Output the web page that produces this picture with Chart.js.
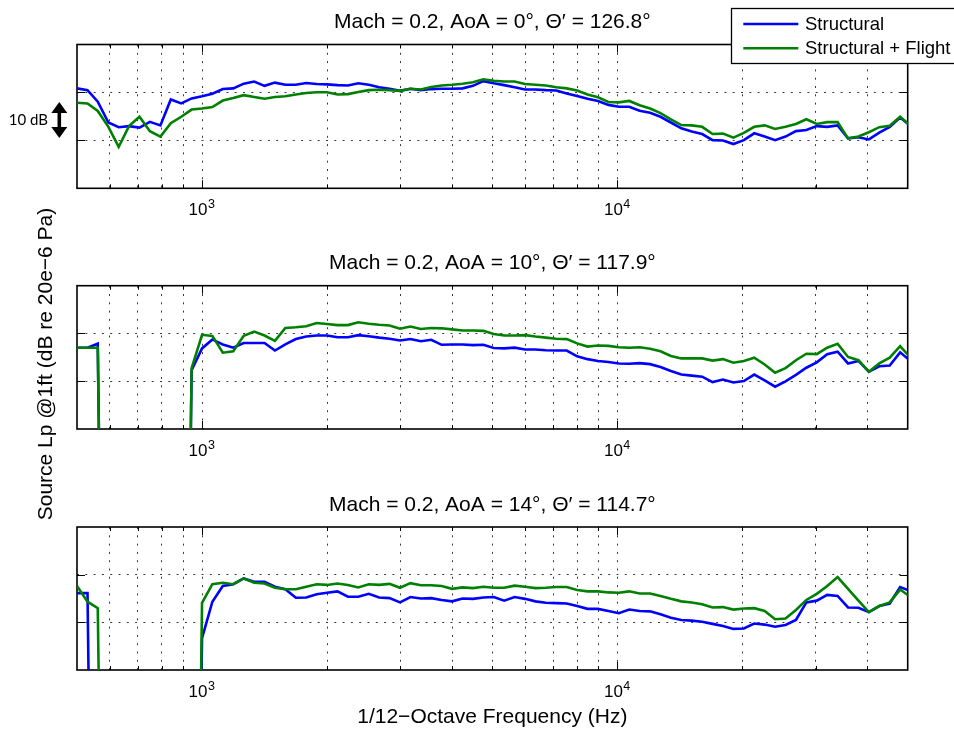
<!DOCTYPE html>
<html>
<head>
<meta charset="utf-8">
<script src="https://cdn.jsdelivr.net/npm/chart.js@4/dist/chart.umd.min.js"></script>
<style>
  html, body { margin: 0; padding: 0; background: #ffffff; }
  #figure { position: relative; width: 954px; height: 730px; overflow: hidden; background: #ffffff; }
  #figure canvas { position: absolute; left: 0; top: 0; }
</style>
</head>
<body>
<div id="figure">
  <canvas id="panel0" width="954" height="730"></canvas>
  <canvas id="panel1" width="954" height="730"></canvas>
  <canvas id="panel2" width="954" height="730"></canvas>
</div>
<script>
// 1/12-octave band centre frequencies (Hz)
const freqHz = [
  500, 530, 561, 595, 630, 667, 707, 749, 794, 841, 891, 944,
  1000, 1059, 1122, 1189, 1260, 1335, 1414, 1498, 1587, 1682, 1782, 1888,
  2000, 2119, 2245, 2378, 2520, 2670, 2828, 2997, 3175, 3364, 3564, 3775,
  4000, 4238, 4490, 4757, 5040, 5339, 5657, 5993, 6350, 6727, 7127, 7551,
  8000, 8476, 8980, 9514, 10079, 10679, 11314, 11986, 12699, 13454, 14254, 15102,
  16000, 16951, 17959, 19027, 20159, 21357, 22627, 23973, 25398, 26909, 28509, 30204,
  32000, 33903, 35919, 38055, 40317, 42715, 45255, 47946, 50797
];

// Source levels (relative dB). Bands with no usable signal are stored at -200 dB,
// so the trace plunges straight out through the bottom of the axes.
const structuralAoA0 = [
  27.8, 27.3, 24.1, 18.3, 17.0, 17.3, 16.9, 18.5, 17.5, 24.7, 23.6, 25.0,
  25.6, 26.3, 27.6, 27.8, 29.1, 29.7, 28.5, 29.4, 28.8, 28.8, 29.3, 29.0,
  28.9, 28.7, 28.6, 29.2, 28.8, 28.1, 27.7, 27.1, 27.7, 27.3, 27.6, 27.7,
  27.7, 27.8, 28.5, 29.8, 29.2, 28.7, 28.1, 27.5, 27.5, 27.3, 27.2, 26.4,
  25.7, 24.9, 24.3, 23.2, 22.7, 22.7, 21.6, 21.0, 19.9, 18.3, 16.7, 15.8,
  15.1, 13.4, 13.3, 12.3, 13.4, 15.3, 14.4, 13.4, 14.4, 15.9, 16.2, 17.3,
  17.1, 17.5, 13.9, 14.2, 13.6, 15.5, 17.1, 19.7, 17.4
];
const flightAoA0 = [
  23.8, 23.6, 21.5, 17.1, 11.5, 17.3, 19.9, 15.9, 14.4, 18.1, 19.9, 21.9,
  22.2, 22.6, 24.4, 25.1, 25.9, 25.4, 24.9, 25.4, 25.6, 26.1, 26.5, 26.7,
  26.7, 26.1, 26.2, 26.8, 27.3, 27.4, 27.3, 27.1, 27.7, 27.5, 28.2, 28.6,
  28.8, 29.1, 29.5, 30.3, 29.9, 29.7, 29.7, 29.0, 28.8, 28.6, 28.1, 27.8,
  27.2, 26.1, 25.3, 24.0, 23.9, 24.3, 23.1, 22.2, 20.9, 19.2, 17.6, 17.5,
  17.1, 15.1, 15.2, 14.1, 15.4, 17.1, 17.5, 16.5, 17.1, 17.9, 19.2, 17.9,
  18.4, 18.4, 13.9, 14.4, 15.6, 17.0, 17.4, 19.9, 17.3
];
const structuralAoA10 = [
  22.7, 22.7, 23.8, -200, -200, -200, -200, -200, -200, -200, -200, 16.4,
  22.5, 25.0, 23.6, 22.7, 24.0, 24.0, 24.0, 21.9, 23.6, 25.1, 25.8, 26.1,
  26.1, 25.6, 25.6, 26.2, 25.9, 25.5, 25.2, 24.7, 25.1, 24.5, 24.9, 23.5,
  23.6, 23.6, 23.4, 23.5, 22.6, 22.5, 22.7, 22.2, 22.2, 22.0, 21.9, 21.9,
  20.3, 19.5, 19.0, 18.7, 18.3, 18.2, 18.4, 18.1, 17.3, 16.2, 15.2, 14.9,
  14.6, 13.1, 13.8, 13.0, 13.4, 15.2, 13.6, 11.8, 13.3, 15.1, 17.1, 18.6,
  20.9, 21.6, 18.3, 19.0, 16.0, 17.5, 17.7, 21.4, 19.0
];
const flightAoA10 = [
  22.7, 22.7, 22.7, -200, -200, -200, -200, -200, -200, -200, -200, 17.0,
  26.3, 26.0, 21.3, 21.7, 26.0, 27.2, 26.1, 24.6, 28.2, 28.4, 28.7, 29.6,
  29.3, 29.0, 29.0, 29.8, 29.4, 29.1, 28.9, 28.0, 28.6, 27.9, 28.2, 28.1,
  27.8, 27.5, 27.5, 27.4, 26.5, 26.1, 26.1, 26.2, 25.8, 25.5, 25.2, 25.1,
  23.9, 23.0, 23.3, 23.2, 22.8, 22.7, 22.8, 22.4, 21.7, 20.4, 19.7, 19.7,
  19.7, 19.1, 19.5, 18.5, 19.0, 19.9, 18.0, 15.7, 17.0, 19.2, 21.0, 20.9,
  22.7, 23.8, 20.1, 19.2, 16.0, 18.3, 19.9, 23.1, 19.9
];
const structuralAoA14 = [
  21.5, 21.5, -200, -200, -200, -200, -200, -200, -200, -200, -200, -200,
  8.9, 19.1, 23.5, 24.0, 25.6, 24.7, 24.7, 23.3, 22.6, 20.2, 20.3, 21.2,
  21.6, 22.0, 20.5, 20.5, 21.3, 20.3, 20.1, 18.9, 20.4, 20.0, 20.1, 19.6,
  19.2, 20.0, 19.9, 20.3, 20.4, 19.4, 20.4, 19.9, 19.2, 18.8, 18.7, 18.6,
  17.9, 17.1, 17.1, 16.5, 15.9, 16.9, 16.5, 16.4, 15.6, 14.6, 14.0, 13.8,
  13.5, 12.9, 12.3, 11.5, 11.6, 13.0, 12.7, 12.1, 12.6, 14.0, 18.9, 19.4,
  21.0, 20.7, 17.5, 17.4, 16.2, 17.9, 18.6, 23.2, 22.1
];
const flightAoA14 = [
  23.5, 19.1, 17.3, -200, -200, -200, -200, -200, -200, -200, -200, -200,
  18.8, 24.0, 24.4, 24.0, 25.6, 24.4, 24.2, 23.0, 22.6, 22.6, 23.3, 24.0,
  23.8, 24.2, 23.8, 23.1, 24.0, 23.8, 24.1, 23.0, 24.3, 23.7, 23.7, 23.5,
  22.7, 23.1, 22.9, 23.3, 23.0, 23.0, 23.6, 23.3, 22.9, 23.0, 23.2, 23.2,
  22.4, 22.0, 22.0, 21.7, 21.6, 22.0, 21.4, 21.4, 20.7, 19.9, 19.2, 18.9,
  18.4, 17.5, 17.6, 16.9, 17.2, 17.3, 16.5, 14.2, 14.4, 16.8, 19.6, 21.3,
  23.5, 26.0, 22.7, 19.4, 16.2, 17.9, 18.9, 22.5, 20.4
];

const seriesLabels = ['Structural', 'Structural + Flight'];
const panelTitles = [
  'Mach = 0.2, AoA = 0°, Θ′ = 126.8°',
  'Mach = 0.2, AoA = 10°, Θ′ = 117.9°',
  'Mach = 0.2, AoA = 14°, Θ′ = 114.7°'
];
const panelSeries = [
  [structuralAoA0, flightAoA0],
  [structuralAoA10, flightAoA10],
  [structuralAoA14, flightAoA14]
];

// Axis ranges, grid/tick positions and tick labels (decades shown as 10^n)
const xRangeHz = [500, 50000];
const xGridHz = [600, 700, 800, 900, 1000, 2000, 3000, 4000, 5000, 6000, 7000, 8000, 9000,
                 10000, 20000, 30000, 40000];
const xDecadeHz = [1000, 10000];
const xTickBase = '10';
const xTickExponents = ['3', '4'];
const yRangeDb = [0, 40];
const yGridDb = [40 / 3, 80 / 3];
const scaleBarDb = [14, 24];        // the "10 dB" scale bar
const scaleBarLabel = '10 dB';
const xAxisTitle = '1/12\u2212Octave Frequency (Hz)';
const yAxisTitle = 'Source Lp @1ft (dB re 20e\u22126 Pa)';

// ---------------------------------------------------------------- styling
const FONT = '"Liberation Sans", Arial, Helvetica, sans-serif';
const COLORS = ['#0000ff', '#008000'];
const GRID_COLOR = '#3a3a3a';
const GRID_DASH = [2, 6.3];
const PLOT_LEFT = 77, PLOT_RIGHT = 907.7;
const X_AXIS_BAND = 40;             // height reserved under each plot for tick labels
const TICK_FONT_SIZE = 17;
const TICK_PADDING = 12;
const TICK_LABEL_SHIFT = -4;        // the base "10" sits left of the tick to leave room for the exponent
const panelBoxes = [[44.5, 188.3], [285.7, 429], [527, 670]];
const W = 954, H = 730;

function framePlugin(index) {
  return {
    id: 'frame' + index,
    beforeDatasetsDraw(chart) {
      const { ctx, chartArea: a, scales } = chart;
      ctx.save();
      ctx.strokeStyle = '#000';
      ctx.lineWidth = 1;
      ctx.beginPath();
      // inward tick marks on all four sides
      xGridHz.forEach(v => {
        const px = Math.round(scales.x.getPixelForValue(v)) + 0.5;
        const len = xDecadeHz.includes(v) ? 8 : 4;
        ctx.moveTo(px, a.bottom); ctx.lineTo(px, a.bottom - len);
        ctx.moveTo(px, a.top); ctx.lineTo(px, a.top + len);
      });
      yGridDb.forEach(v => {
        const py = Math.round(scales.y.getPixelForValue(v)) + 0.5;
        ctx.moveTo(a.left, py); ctx.lineTo(a.left + 8, py);
        ctx.moveTo(a.right, py); ctx.lineTo(a.right - 8, py);
      });
      ctx.stroke();
      ctx.lineWidth = 1.6;
      ctx.strokeRect(a.left, a.top, a.right - a.left, a.bottom - a.top);
      ctx.restore();
    },
    afterDraw(chart) {
      const { ctx, chartArea: a, scales } = chart;
      ctx.save();
      ctx.fillStyle = '#000';

      // decade exponents, set as superscripts after the axis' "10" labels
      ctx.font = TICK_FONT_SIZE + 'px ' + FONT;
      const baseWidth = ctx.measureText(xTickBase).width;
      ctx.font = '12.5px ' + FONT;
      ctx.textAlign = 'left';
      ctx.textBaseline = 'alphabetic';
      xDecadeHz.forEach((v, k) => {
        const px = scales.x.getPixelForValue(v) + TICK_LABEL_SHIFT + baseWidth / 2 + 0.5;
        ctx.fillText(xTickExponents[k], px, a.bottom + 20);
      });

      ctx.font = '21px ' + FONT;
      ctx.textAlign = 'center';
      ctx.textBaseline = 'alphabetic';
      ctx.fillText(panelTitles[index], (a.left + a.right) / 2, a.top - 16.5);

      if (index === 0) {
        // scale bar: double-headed arrow spanning 10 dB
        const x = 59.3;
        const yTop = scales.y.getPixelForValue(scaleBarDb[1]);
        const yBot = scales.y.getPixelForValue(scaleBarDb[0]);
        const head = 11, half = 8;
        ctx.strokeStyle = '#000';
        ctx.lineWidth = 3.6;
        ctx.beginPath();
        ctx.moveTo(x, yTop + head - 1); ctx.lineTo(x, yBot - head + 1);
        ctx.stroke();
        ctx.beginPath();
        ctx.moveTo(x, yTop); ctx.lineTo(x - half, yTop + head); ctx.lineTo(x + half, yTop + head); ctx.closePath();
        ctx.moveTo(x, yBot); ctx.lineTo(x - half, yBot - head); ctx.lineTo(x + half, yBot - head); ctx.closePath();
        ctx.fill();
        ctx.font = '15px Lato, "Open Sans", sans-serif';
        ctx.textAlign = 'right';
        ctx.textBaseline = 'middle';
        ctx.fillText(scaleBarLabel, 48, (yTop + yBot) / 2);

        // legend box
        const bx = 731.5, by = 8.5, bw = 240, bh = 55;
        ctx.fillStyle = '#fff';
        ctx.fillRect(bx, by, bw, bh);
        ctx.strokeStyle = '#000';
        ctx.lineWidth = 1.3;
        ctx.strokeRect(bx, by, bw, bh);
        const rows = [24, 48.3];
        chart.data.datasets.forEach((ds, i) => {
          ctx.strokeStyle = ds.borderColor;
          ctx.lineWidth = 2.6;
          ctx.beginPath();
          ctx.moveTo(743.3, rows[i]); ctx.lineTo(798.3, rows[i]);
          ctx.stroke();
          ctx.fillStyle = '#000';
          ctx.font = '18.5px ' + FONT;
          ctx.textAlign = 'left';
          ctx.textBaseline = 'middle';
          ctx.fillText(ds.label, 805, rows[i] + 0.5);
        });
      }
      if (index === 1) {
        ctx.translate(52, 364);
        ctx.rotate(-Math.PI / 2);
        ctx.font = '21px ' + FONT;
        ctx.textAlign = 'center';
        ctx.textBaseline = 'alphabetic';
        ctx.fillText(yAxisTitle, 0, 0);
      }
      if (index === 2) {
        ctx.font = '21px ' + FONT;
        ctx.textAlign = 'center';
        ctx.textBaseline = 'alphabetic';
        ctx.fillText(xAxisTitle, (a.left + a.right) / 2, 723);
      }
      ctx.restore();
    }
  };
}

function makePanel(index) {
  const [top, bottom] = panelBoxes[index];
  const datasets = panelSeries[index].map((values, s) => ({
    label: seriesLabels[s],
    data: freqHz.map((f, i) => ({ x: f, y: values[i] })),
    borderColor: COLORS[s],
    backgroundColor: COLORS[s],
    borderWidth: 2.6,
    pointRadius: 0,
    tension: 0,
    fill: false,
    clip: 0,
    order: s === 0 ? 1 : 0
  }));
  return new Chart(document.getElementById('panel' + index), {
    type: 'line',
    data: { datasets },
    options: {
      responsive: false,
      animation: false,
      devicePixelRatio: 1,
      events: [],
      layout: {
        autoPadding: false,
        padding: { left: PLOT_LEFT, right: W - PLOT_RIGHT, top: top, bottom: H - bottom - X_AXIS_BAND }
      },
      plugins: { legend: { display: false }, tooltip: { enabled: false }, title: { display: false } },
      scales: {
        x: {
          type: 'logarithmic',
          min: xRangeHz[0], max: xRangeHz[1],
          afterFit(scale) { scale.height = X_AXIS_BAND; },
          afterBuildTicks(scale) { scale.ticks = xGridHz.map(v => ({ value: v })); },
          ticks: {
            autoSkip: false, maxRotation: 0, minRotation: 0,
            padding: TICK_PADDING, labelOffset: TICK_LABEL_SHIFT,
            color: '#000', font: { family: FONT, size: TICK_FONT_SIZE },
            callback(value) {
              return xDecadeHz.includes(value) ? xTickBase : '';
            }
          },
          grid: { drawTicks: false, color: GRID_COLOR, lineWidth: 1 },
          border: { display: false, dash: GRID_DASH }
        },
        y: {
          type: 'linear',
          min: yRangeDb[0], max: yRangeDb[1],
          afterFit(scale) { scale.width = 0; },
          afterBuildTicks(scale) { scale.ticks = yGridDb.map(v => ({ value: v })); },
          ticks: { display: false },
          grid: { drawTicks: false, color: GRID_COLOR, lineWidth: 1 },
          border: { display: false, dash: GRID_DASH }
        }
      }
    },
    plugins: [framePlugin(index)]
  });
}

[0, 1, 2].forEach(makePanel);
</script>
</body>
</html>
